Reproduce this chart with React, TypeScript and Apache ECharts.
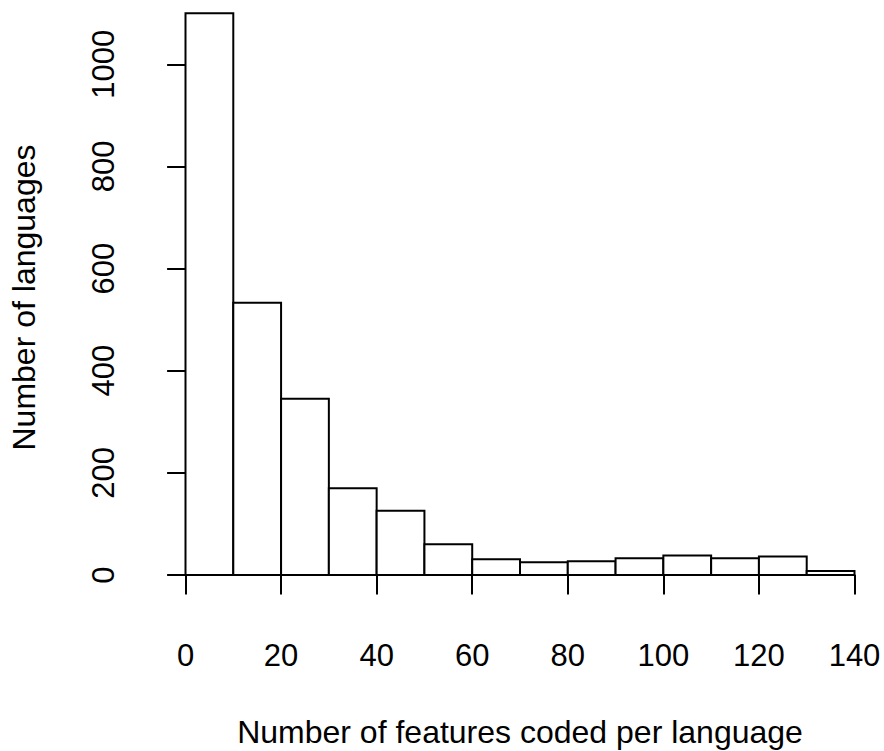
import React, { useEffect, useRef } from "react";
import * as echarts from "echarts";

// Histogram bin edges (features coded per language) and counts per bin
const binEdges = [0, 10, 20, 30, 40, 50, 60, 70, 80, 90, 100, 110, 120, 130, 140];
const counts = [1100, 533, 345, 170, 126, 60, 31, 25, 27, 33, 38, 33, 36, 8];
const xTicks = [0, 20, 40, 60, 80, 100, 120, 140];
const yTicks = [0, 200, 400, 600, 800, 1000];

const xTitle = "Number of features coded per language";
const yTitle = "Number of languages";

const FONT = '"Liberation Sans", Arial, Helvetica, sans-serif';

export default function App() {
  const ref = useRef<HTMLDivElement>(null);

  useEffect(() => {
    if (!ref.current) return;
    const chart = echarts.init(ref.current, undefined, { renderer: "svg" });

    const bins = counts.map((c, i) => [binEdges[i], binEdges[i + 1], c]);
    const xMin = xTicks[0];
    const xMax = xTicks[xTicks.length - 1];
    const yMax = yTicks[yTicks.length - 1];

    const plotLeft = 185.5;
    const plotWidth = 669;
    const zeroY = 575;
    const pxPerUnit = 0.5107;
    const dataTop = 1100;

    chart.setOption({
      animation: false,
      backgroundColor: "#fff",
      grid: [
        {
          left: plotLeft,
          width: plotWidth,
          top: zeroY - dataTop * pxPerUnit,
          height: dataTop * pxPerUnit,
          containLabel: false,
        },
        {
          left: plotLeft,
          width: plotWidth,
          top: zeroY - yMax * pxPerUnit,
          height: yMax * pxPerUnit,
          containLabel: false,
        },
      ],
      xAxis: [
        {
          type: "value",
          gridIndex: 0,
          min: xMin,
          max: xMax,
          interval: 20,
          offset: 22.3,
          axisLine: { show: true, lineStyle: { color: "#000", width: 2 } },
          axisTick: { show: true, length: 19.5, lineStyle: { color: "#000", width: 2 } },
          axisLabel: {
            show: true,
            color: "#000",
            fontSize: 31,
            fontFamily: FONT,
            margin: 43,
            formatter: (v: number) => String(v),
          },
          splitLine: { show: false },
        },
        {
          type: "value",
          gridIndex: 1,
          min: xMin,
          max: xMax,
          show: false,
        },
      ],
      yAxis: [
        {
          type: "value",
          gridIndex: 0,
          min: 0,
          max: dataTop,
          show: false,
        },
        {
          type: "value",
          gridIndex: 1,
          min: 0,
          max: yMax,
          interval: 200,
          offset: 27.8,
          axisLine: { show: true, lineStyle: { color: "#000", width: 2 } },
          axisTick: { show: true, length: 18.4, lineStyle: { color: "#000", width: 2 } },
          axisLabel: {
            show: true,
            rotate: 90,
            color: "#000",
            fontSize: 31,
            fontFamily: FONT,
            margin: 39,
            formatter: (v: number) => String(v),
          },
          splitLine: { show: false },
        },
      ],
      series: [
        {
          type: "custom",
          xAxisIndex: 0,
          yAxisIndex: 0,
          data: bins,
          renderItem: (params: any, api: any) => {
            const p0 = api.coord([api.value(0), api.value(2)]);
            const p1 = api.coord([api.value(1), 0]);
            return {
              type: "rect",
              shape: {
                x: p0[0],
                y: p0[1],
                width: p1[0] - p0[0],
                height: p1[1] - p0[1],
              },
              style: { fill: "#fff", stroke: "#000", lineWidth: 2 },
            };
          },
        },
      ],
      graphic: [
        {
          type: "text",
          x: 520,
          y: 732.3,
          style: {
            text: xTitle,
            fill: "#000",
            font: `32px ${FONT}`,
            textAlign: "center",
            textVerticalAlign: "middle",
          },
        },
        {
          type: "text",
          x: 24.0,
          y: 297.5,
          rotation: Math.PI / 2,
          style: {
            text: yTitle,
            fill: "#000",
            font: `32px ${FONT}`,
            textAlign: "center",
            textVerticalAlign: "middle",
          },
        },
      ],
    });

    return () => {
      chart.dispose();
    };
  }, []);

  return (
    <div
      ref={ref}
      style={{ position: "fixed", left: 0, top: 0, width: 884, height: 751, background: "#fff" }}
    />
  );
}
